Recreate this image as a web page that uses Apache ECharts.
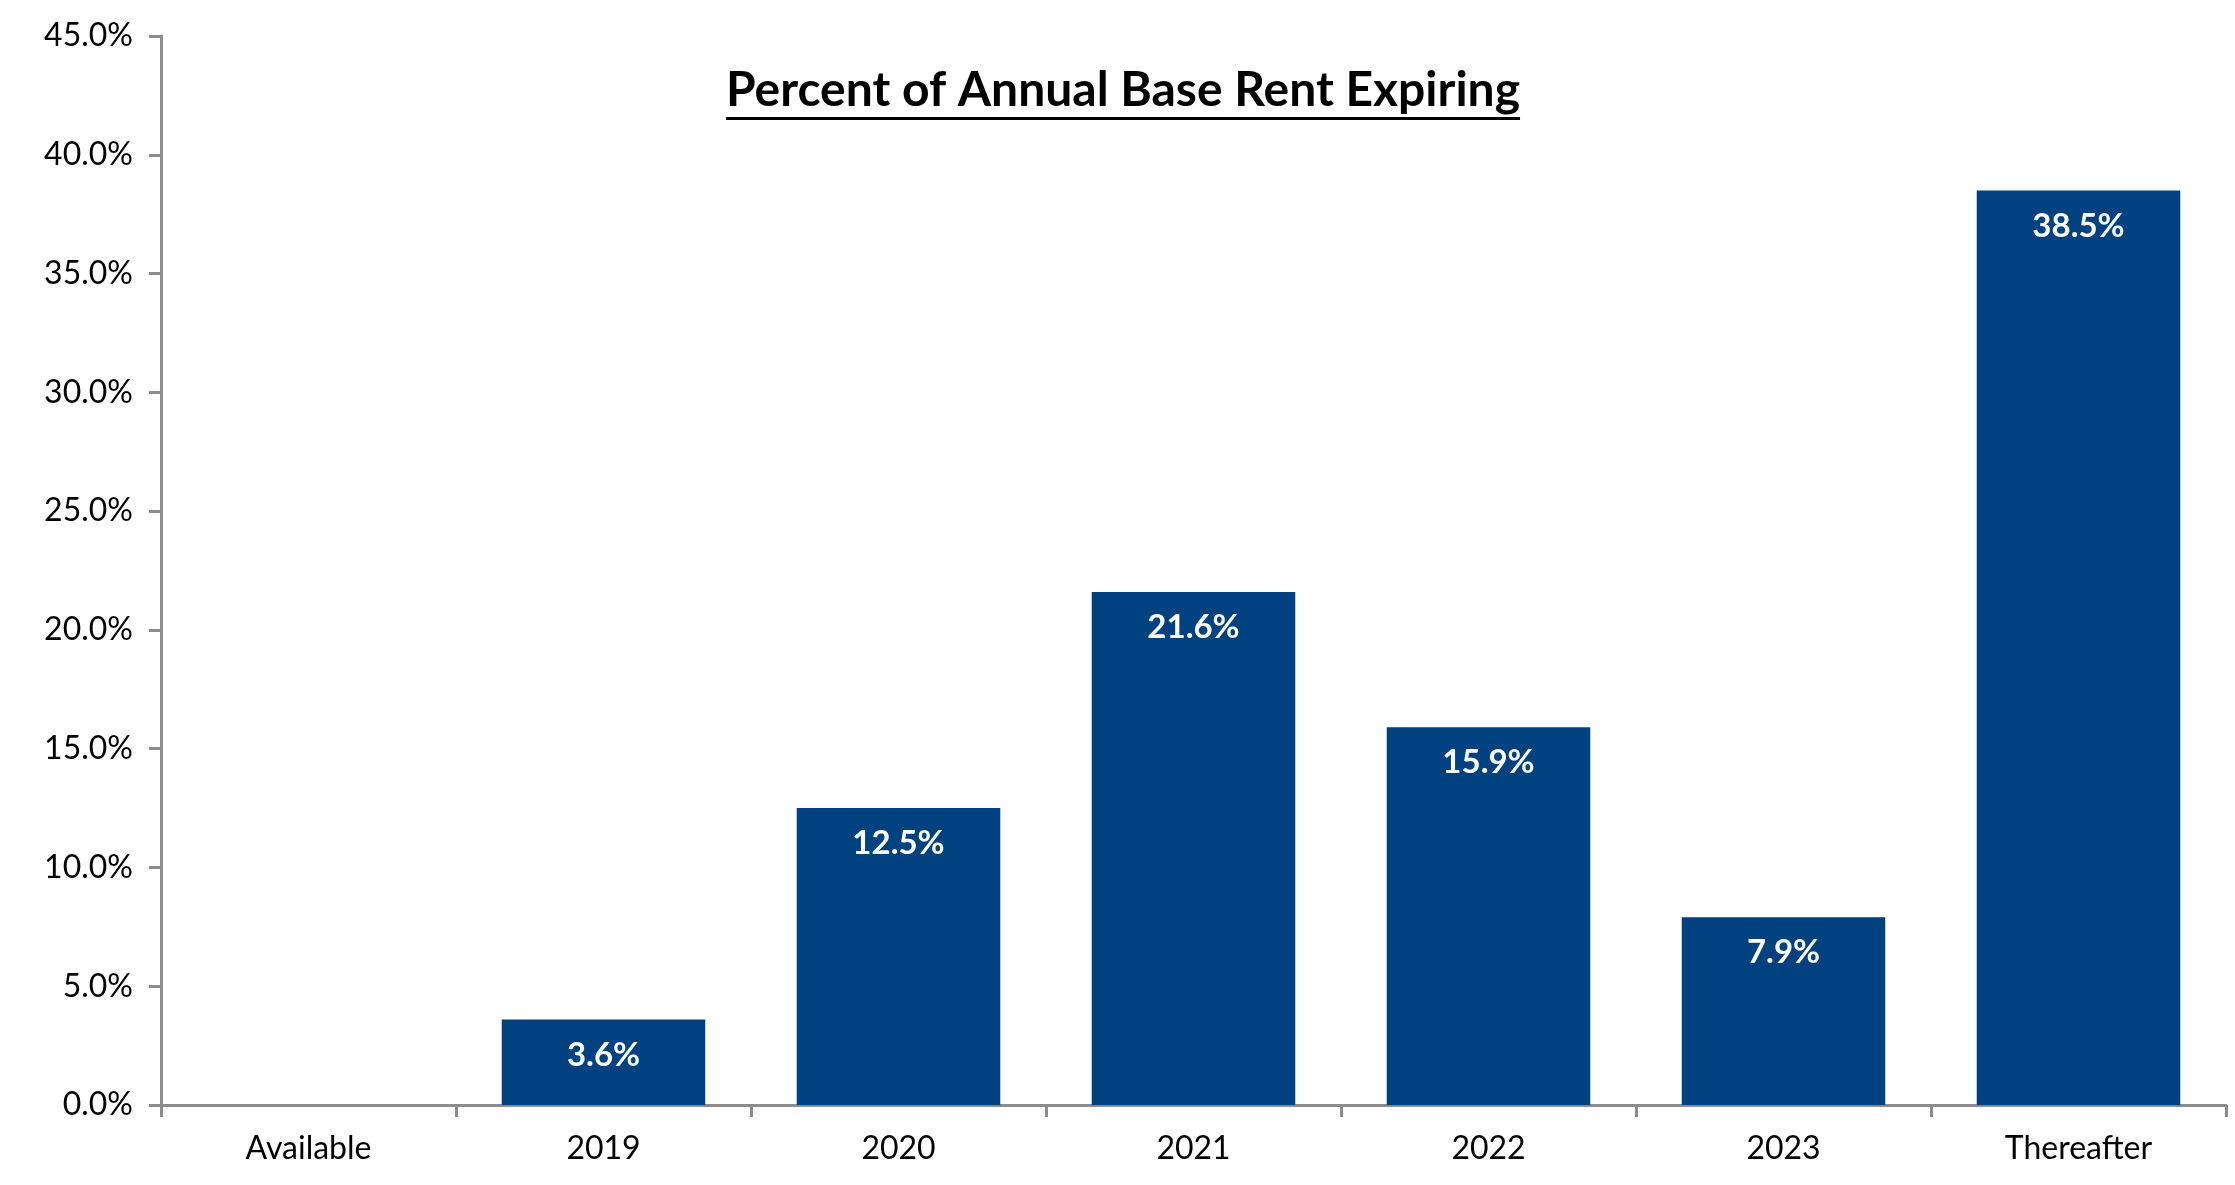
<!DOCTYPE html>
<html>
<head>
<meta charset="utf-8">
<script src="https://cdn.jsdelivr.net/npm/echarts@6/dist/echarts.min.js"></script>
<style>
html,body{margin:0;padding:0;background:#fff;}
#chart{width:2235px;height:1185px;}
</style>
</head>
<body>
<div id="chart"></div>
<script>
const categories = ['Available', '2019', '2020', '2021', '2022', '2023', 'Thereafter'];
const values = [0, 3.6, 12.5, 21.6, 15.9, 7.9, 38.5];
const titleText = 'Percent of Annual Base Rent Expiring';

const FONT = 'Lato, "Open Sans", sans-serif';
const titleFont = 'bold 48px ' + FONT;
const cnv = document.createElement('canvas').getContext('2d');
cnv.font = titleFont;
const titleW = cnv.measureText(titleText).width;
const titleCx = 1123, titleY = 97;

const chart = echarts.init(document.getElementById('chart'));
chart.setOption({
  animation: false,
  grid: { left: 161, right: 9, top: 36, bottom: 80 },
  graphic: [
    { type: 'text', left: titleCx - titleW / 2, top: titleY - 30,
      style: { text: titleText, font: titleFont, fill: '#000' } },
    { type: 'rect', shape: { x: titleCx - titleW / 2, y: titleY + 20, width: titleW, height: 3 },
      style: { fill: '#000' } }
  ],
  xAxis: {
    type: 'category',
    data: categories,
    axisLine: { lineStyle: { color: '#8c8c8c', width: 3 } },
    axisTick: { show: true, length: 12, lineStyle: { color: '#8c8c8c', width: 3 } },
    axisLabel: { color: '#000', fontFamily: FONT, fontSize: 32, margin: 28 }
  },
  yAxis: {
    type: 'value', min: 0, max: 45, interval: 5,
    splitLine: { show: false },
    axisLine: { show: true, lineStyle: { color: '#8c8c8c', width: 3 } },
    axisTick: { show: true, length: 12, lineStyle: { color: '#8c8c8c', width: 3 } },
    axisLabel: { color: '#000', fontFamily: FONT, fontSize: 32, margin: 28,
      formatter: v => v.toFixed(1) + '%' }
  },
  series: [{
    type: 'bar',
    data: values,
    barCategoryGap: '31%',
    itemStyle: { color: '#00427f', borderWidth: 0 },
    label: {
      show: true, position: 'insideTop', distance: 19,
      color: '#fff', fontFamily: FONT, fontWeight: 'bold', fontSize: 33,
      formatter: p => p.value ? p.value.toFixed(1) + '%' : ''
    }
  }]
});
</script>
</body>
</html>
